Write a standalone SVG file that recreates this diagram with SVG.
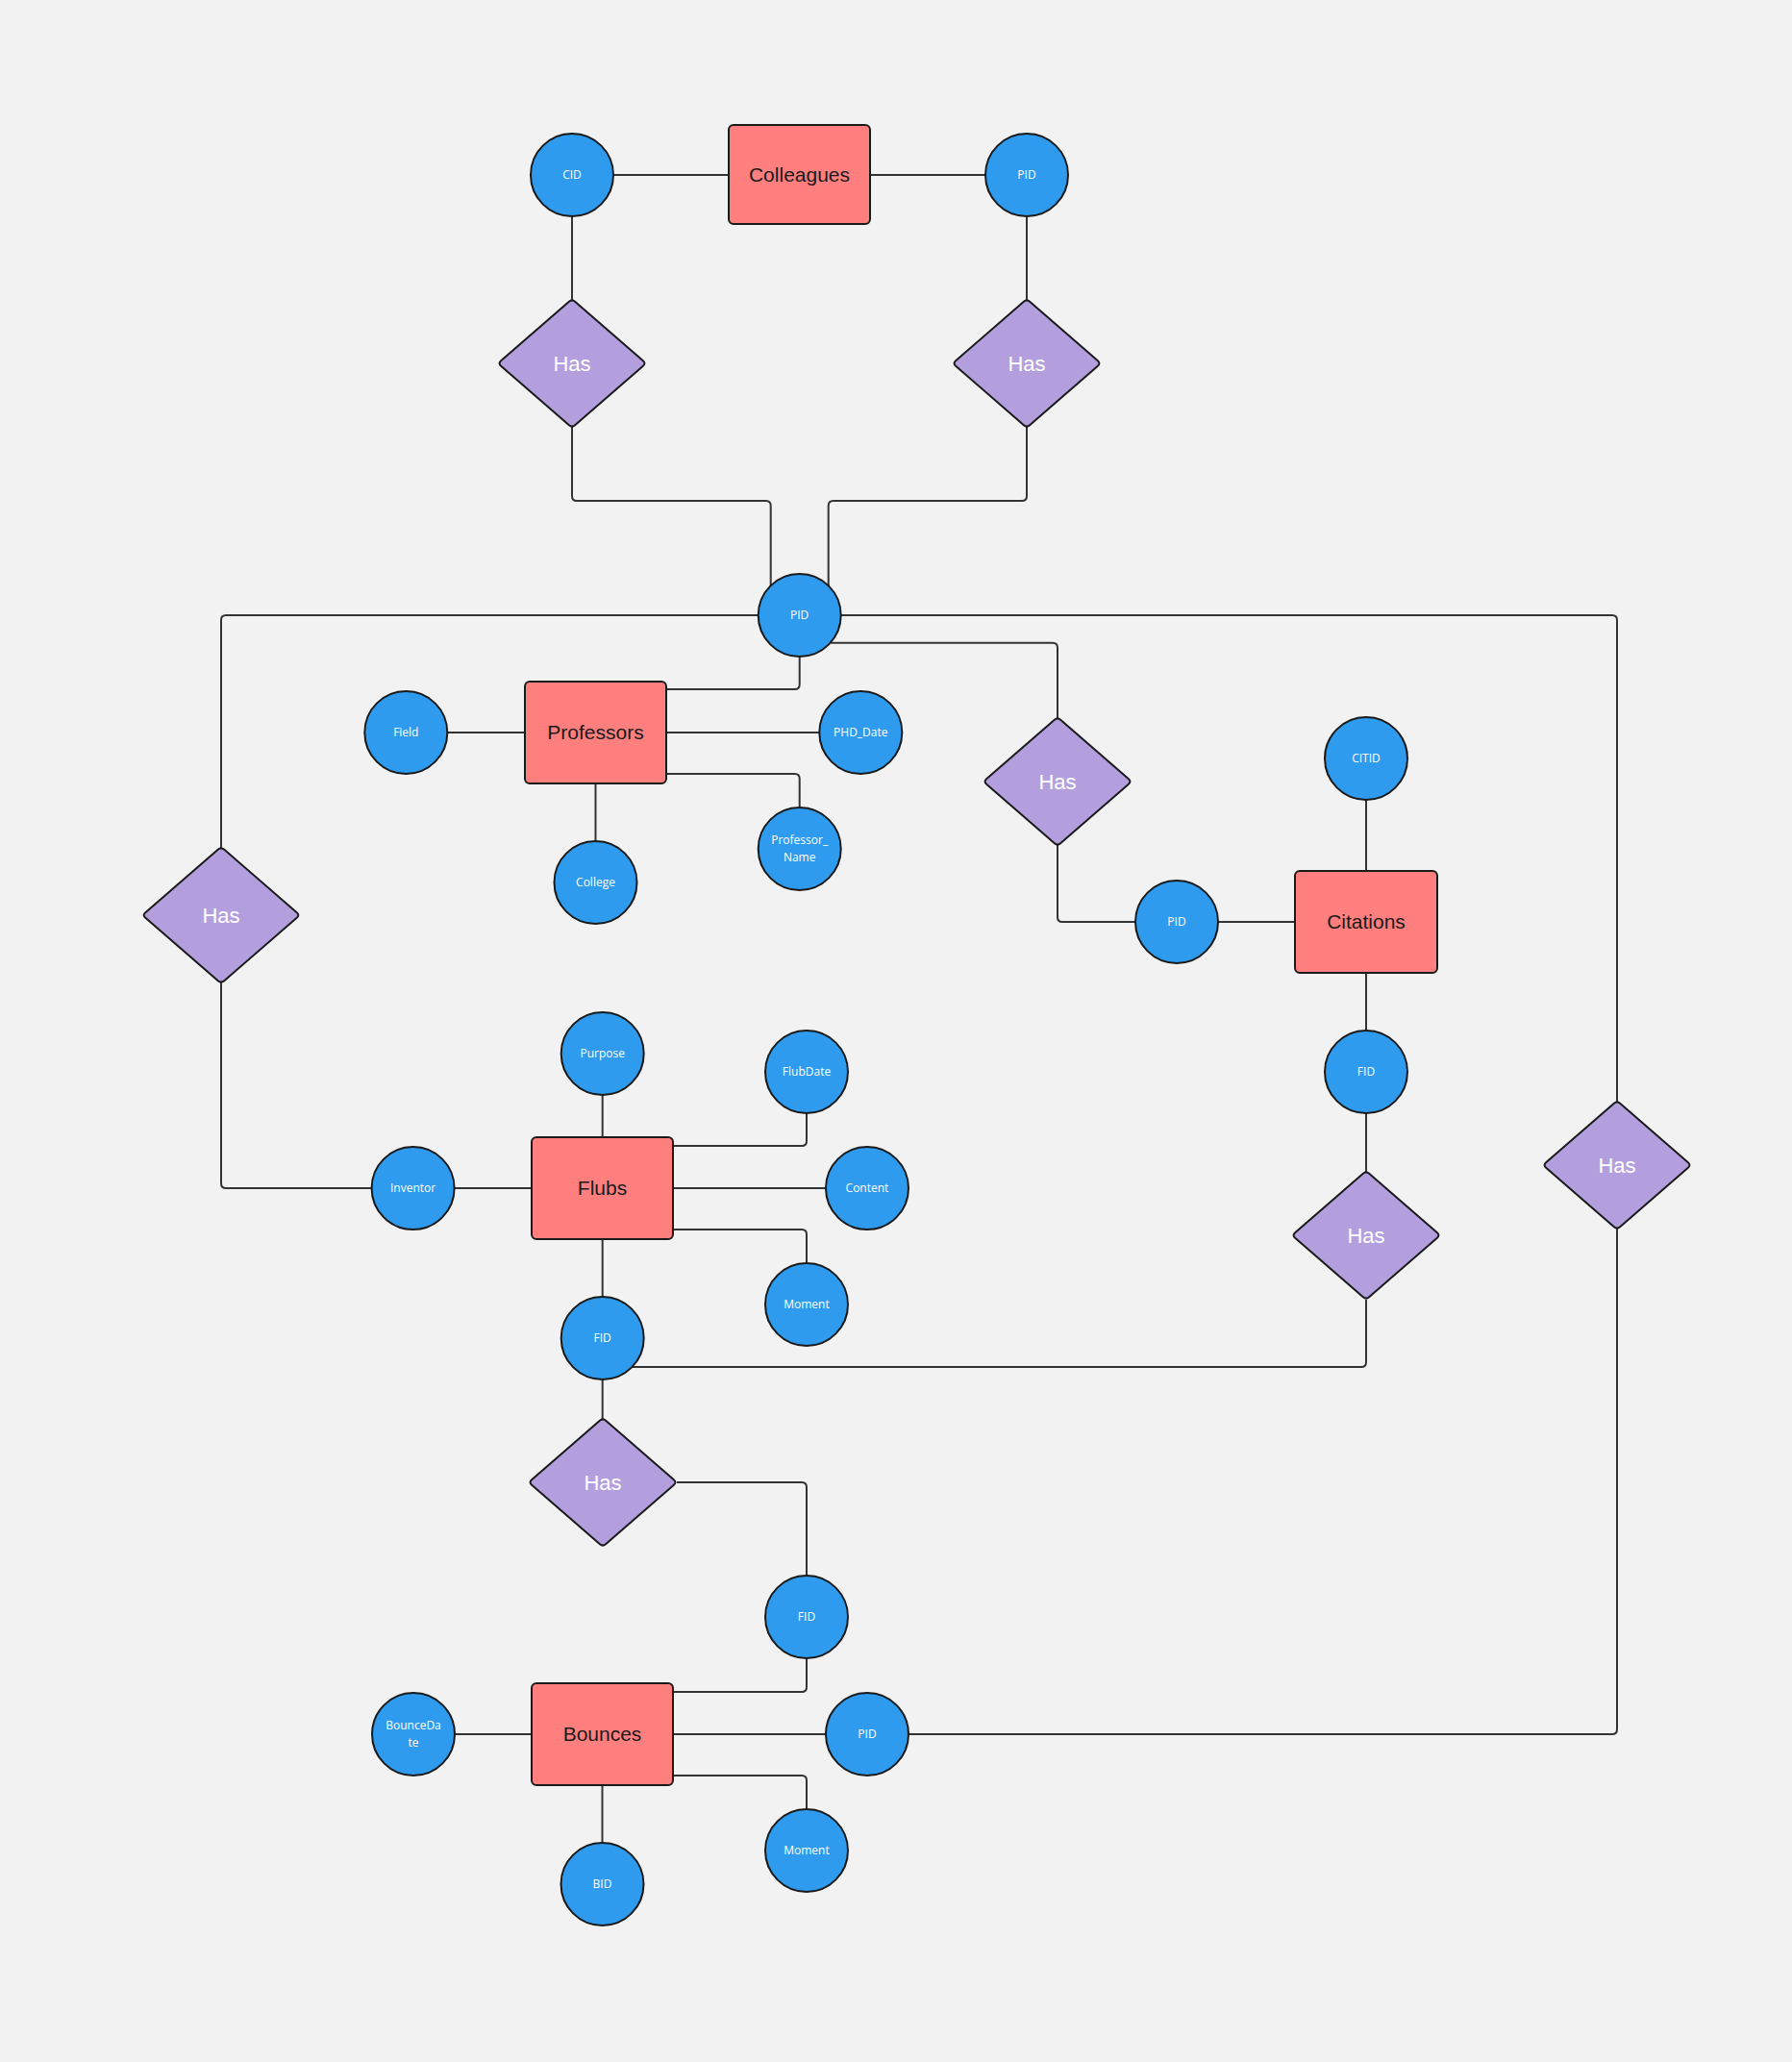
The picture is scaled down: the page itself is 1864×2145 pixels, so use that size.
<svg xmlns="http://www.w3.org/2000/svg" xmlns:xlink="http://www.w3.org/1999/xlink" width="1864" height="2145" viewBox="0 0 1864 2145">
<style>
.bg{fill:#F2F2F2}
.con path{fill:none;stroke:#333333;stroke-width:2}
.att circle{fill:#2E9BEF;stroke:#1A1A1A;stroke-width:2}
.ent rect{fill:#FF7F7F;stroke:#1A1A1A;stroke-width:2}
.rel use{fill:#B49FDE;stroke:#1A1A1A;stroke-width:2}
.at{font-family:"Open Sans","Liberation Sans",sans-serif;font-size:12px;fill:#FFFFFF;text-anchor:middle}
.et{font-family:"Liberation Sans",Arial,sans-serif;font-size:21px;fill:#1A1A1A;text-anchor:middle}
.rt{font-family:"Liberation Sans",Arial,sans-serif;font-size:22px;fill:#FFFFFF;text-anchor:middle}
</style>
<defs>
<path id="dia" d="M-3.1,-64.3 Q0,-67 3.1,-64.3 L73.9,-2.7 Q77,0 73.9,2.7 L3.1,64.3 Q0,67 -3.1,64.3 L-73.9,2.7 Q-77,0 -73.9,-2.7 Z"/>
<path id="diaL" d="M-3.3,-68.2 Q0,-71 3.3,-68.2 L78.7,-2.8 Q82,0 78.7,2.8 L3.3,68.2 Q0,71 -3.3,68.2 L-78.7,2.8 Q-82,0 -78.7,-2.8 Z"/>
</defs>
<rect class="bg" x="0" y="0" width="1864" height="2145"/>
<g id="connectors" class="con">
<path d="M638,182 H758"/>
<path d="M905,182 H1025"/>
<path d="M595,225 V312"/>
<path d="M1068,225 V312"/>
<path d="M595,443 V516 Q595,521 600,521 H796.7 Q801.7,521 801.7,526 V610"/>
<path d="M1068,443 V516 Q1068,521 1063,521 H866.7 Q861.7,521 861.7,526 V610"/>
<path d="M789,640 H235 Q230,640 230,645 V882"/>
<path d="M230,1022 V1231 Q230,1236 235,1236 H386.6"/>
<path d="M874.7,640 H1677 Q1682,640 1682,645 V1146"/>
<path d="M1682,1278 V1799 Q1682,1804 1677,1804 H945"/>
<path d="M864,668.7 H1095 Q1100,668.7 1100,673.7 V747"/>
<path d="M1100,879 V954 Q1100,959 1105,959 H1181"/>
<path d="M1267,959 H1347"/>
<path d="M1421,832 V906"/>
<path d="M1421,1012 V1072"/>
<path d="M1421,1158 V1219"/>
<path d="M1421,1352 V1417 Q1421,1422 1416,1422 H657.5"/>
<path d="M831.7,683 V712 Q831.7,717 826.7,717 H693"/>
<path d="M465,762 H546"/>
<path d="M693,762 H852"/>
<path d="M693,805 H826.7 Q831.7,805 831.7,810 V840"/>
<path d="M619.5,815 V875"/>
<path d="M626.7,1139 V1183"/>
<path d="M472.6,1236 H553"/>
<path d="M700,1192 H834 Q839,1192 839,1187 V1158"/>
<path d="M700,1236 H859"/>
<path d="M700,1279 H834 Q839,1279 839,1284 V1314"/>
<path d="M626.7,1289 V1349"/>
<path d="M626.7,1435 V1476"/>
<path d="M704,1542 H834 Q839,1542 839,1547 V1639"/>
<path d="M839,1725 V1755 Q839,1760 834,1760 H700"/>
<path d="M473,1804 H553"/>
<path d="M700,1804 H859"/>
<path d="M626.5,1857 V1917"/>
<path d="M700,1847 H834 Q839,1847 839,1852 V1882"/>
</g>
<g id="colleagues" class="ent"><rect x="758" y="130" width="147" height="103" rx="5"/><text class="et" x="831.5" y="181.5" dy="0.35em">Colleagues</text></g>
<g id="professors" class="ent"><rect x="546" y="709" width="147" height="106" rx="5"/><text class="et" x="619.5" y="762" dy="0.35em">Professors</text></g>
<g id="citations" class="ent"><rect x="1347" y="906" width="148" height="106" rx="5"/><text class="et" x="1421" y="959" dy="0.35em">Citations</text></g>
<g id="flubs" class="ent"><rect x="553" y="1183" width="147" height="106" rx="5"/><text class="et" x="626.5" y="1236" dy="0.35em">Flubs</text></g>
<g id="bounces" class="ent"><rect x="553" y="1751" width="147" height="106" rx="5"/><text class="et" x="626.5" y="1804" dy="0.35em">Bounces</text></g>

<g id="has-cid" class="rel"><use xlink:href="#dia" href="#dia" x="595" y="378"/><text class="rt" x="595" y="378" dy="0.35em">Has</text></g>
<g id="has-pid" class="rel"><use xlink:href="#dia" href="#dia" x="1068" y="378"/><text class="rt" x="1068" y="378" dy="0.35em">Has</text></g>
<g id="has-inventor" class="rel"><use xlink:href="#diaL" href="#diaL" x="230" y="952"/><text class="rt" x="230" y="952" dy="0.35em">Has</text></g>
<g id="has-citation-pid" class="rel"><use xlink:href="#dia" href="#dia" x="1100" y="813"/><text class="rt" x="1100" y="813" dy="0.35em">Has</text></g>
<g id="has-citation-fid" class="rel"><use xlink:href="#dia" href="#dia" x="1421" y="1285"/><text class="rt" x="1421" y="1285" dy="0.35em">Has</text></g>
<g id="has-bounce-pid" class="rel"><use xlink:href="#dia" href="#dia" x="1682" y="1212"/><text class="rt" x="1682" y="1212" dy="0.35em">Has</text></g>
<g id="has-bounce-fid" class="rel"><use xlink:href="#dia" href="#dia" x="627" y="1542"/><text class="rt" x="627" y="1542" dy="0.35em">Has</text></g>

<g id="cid" class="att"><circle cx="595" cy="182" r="43"/><text class="at" x="595" y="182" dy="0.35em">CID</text></g>
<g id="colleague-pid" class="att"><circle cx="1068" cy="182" r="43"/><text class="at" x="1068" y="182" dy="0.35em">PID</text></g>
<g id="pid" class="att"><circle cx="831.7" cy="640" r="43"/><text class="at" x="831.7" y="640" dy="0.35em">PID</text></g>
<g id="field" class="att"><circle cx="422.3" cy="762" r="43"/><text class="at" x="422.3" y="762" dy="0.35em">Field</text></g>
<g id="phd-date" class="att"><circle cx="895.3" cy="762" r="43"/><text class="at" x="895.3" y="762" dy="0.35em">PHD_Date</text></g>
<g id="professor-name" class="att"><circle cx="831.7" cy="883" r="43"/><text class="at" x="831.7" y="874" dy="0.35em">Professor_</text><text class="at" x="831.7" y="892" dy="0.35em">Name</text></g>
<g id="college" class="att"><circle cx="619.5" cy="918" r="43"/><text class="at" x="619.5" y="918" dy="0.35em">College</text></g>
<g id="citid" class="att"><circle cx="1421" cy="789" r="43"/><text class="at" x="1421" y="789" dy="0.35em">CITID</text></g>
<g id="citation-pid" class="att"><circle cx="1224" cy="959" r="43"/><text class="at" x="1224" y="959" dy="0.35em">PID</text></g>
<g id="citation-fid" class="att"><circle cx="1421" cy="1115" r="43"/><text class="at" x="1421" y="1115" dy="0.35em">FID</text></g>
<g id="purpose" class="att"><circle cx="626.7" cy="1096" r="43"/><text class="at" x="626.7" y="1096" dy="0.35em">Purpose</text></g>
<g id="flubdate" class="att"><circle cx="839" cy="1115" r="43"/><text class="at" x="839" y="1115" dy="0.35em">FlubDate</text></g>
<g id="inventor" class="att"><circle cx="429.6" cy="1236" r="43"/><text class="at" x="429.6" y="1236" dy="0.35em">Inventor</text></g>
<g id="content" class="att"><circle cx="902" cy="1236" r="43"/><text class="at" x="902" y="1236" dy="0.35em">Content</text></g>
<g id="flub-moment" class="att"><circle cx="839" cy="1357" r="43"/><text class="at" x="839" y="1357" dy="0.35em">Moment</text></g>
<g id="flub-fid" class="att"><circle cx="626.7" cy="1392" r="43"/><text class="at" x="626.7" y="1392" dy="0.35em">FID</text></g>
<g id="bounce-fid" class="att"><circle cx="839" cy="1682" r="43"/><text class="at" x="839" y="1682" dy="0.35em">FID</text></g>
<g id="bouncedate" class="att"><circle cx="430" cy="1804" r="43"/><text class="at" x="430" y="1795" dy="0.35em">BounceDa</text><text class="at" x="430" y="1813" dy="0.35em">te</text></g>
<g id="bounce-pid" class="att"><circle cx="902" cy="1804" r="43"/><text class="at" x="902" y="1804" dy="0.35em">PID</text></g>
<g id="bid" class="att"><circle cx="626.5" cy="1960" r="43"/><text class="at" x="626.5" y="1960" dy="0.35em">BID</text></g>
<g id="bounce-moment" class="att"><circle cx="839" cy="1925" r="43"/><text class="at" x="839" y="1925" dy="0.35em">Moment</text></g>
</svg>
